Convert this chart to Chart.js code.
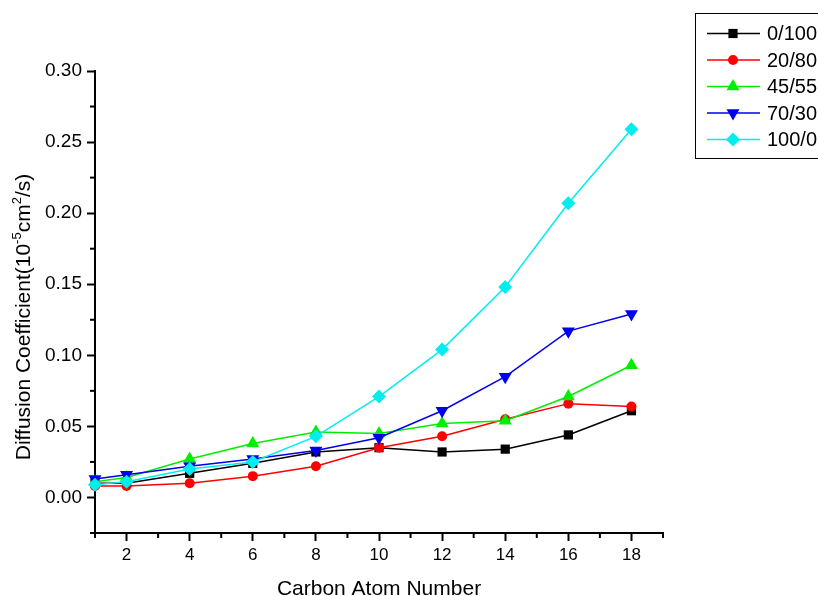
<!DOCTYPE html>
<html>
<head>
<meta charset="utf-8">
<script src="https://cdn.jsdelivr.net/npm/chart.js@4/dist/chart.umd.min.js"></script>
<style>
  html, body { margin: 0; padding: 0; background: #fff; }
  canvas { display: block; }
</style>
</head>
<body>
<canvas id="grafico" width="818" height="596"></canvas>
<script>
// carbon atom number on the x axis
const carbono = [1, 2, 4, 6, 8, 10, 12, 14, 16, 18];

// diffusion coefficient (10^-5 cm2/s), one list per ratio
const serie0_100 = [0.010, 0.010, 0.017, 0.024, 0.032, 0.035, 0.032, 0.034, 0.044, 0.061];
const serie20_80 = [0.008, 0.008, 0.010, 0.015, 0.022, 0.035, 0.043, 0.055, 0.066, 0.064];
const serie45_55 = [0.011, 0.014, 0.027, 0.038, 0.046, 0.045, 0.052, 0.054, 0.071, 0.093];
const serie70_30 = [0.013, 0.016, 0.022, 0.027, 0.033, 0.042, 0.061, 0.085, 0.117, 0.129];
const serie100_0 = [0.009, 0.011, 0.020, 0.025, 0.043, 0.071, 0.104, 0.148, 0.207, 0.259];

const rotulos = ['0/100', '20/80', '45/55', '70/30', '100/0'];
const ticksX = [2, 4, 6, 8, 10, 12, 14, 16, 18];
const ticksY = [0, 0.05, 0.10, 0.15, 0.20, 0.25, 0.30];
const menoresX = [1, 3, 5, 7, 9, 11, 13, 15, 17, 19];
const menoresY = [-0.025, 0.025, 0.075, 0.125, 0.175, 0.225, 0.275];

const estilos = [
    { cor: '#000000', ponto: 'rect', raio: 6.5, rot: 0 },
    { cor: '#ff0000', ponto: 'circle', raio: 5, rot: 0 },
    { cor: '#00ee00', ponto: 'triangle', raio: 7.5, rot: 0 },
    { cor: '#0000ee', ponto: 'triangle', raio: 7.5, rot: 180 },
    { cor: '#00eeee', ponto: 'rectRot', raio: 7, rot: 0 }
];

function montaPontos(valores) {
    return carbono.map((c, i) => ({ x: c, y: valores[i] }));
}

const series = [serie0_100, serie20_80, serie45_55, serie70_30, serie100_0];
const datasets = series.map((s, i) => ({
    label: rotulos[i],
    data: montaPontos(s),
    borderColor: estilos[i].cor,
    backgroundColor: estilos[i].cor,
    borderWidth: 1.5,
    pointStyle: estilos[i].ponto,
    pointRadius: estilos[i].raio,
    pointRotation: estilos[i].rot,
    pointBorderWidth: 0,
    tension: 0,
    clip: false,
    order: 4 - i
}));

function desenhaMarcador(ctx, estilo, x, y) {
    const r = estilo.raio;
    ctx.save();
    ctx.fillStyle = estilo.cor;
    ctx.beginPath();
    if (estilo.ponto === 'rect') {
        const s = r * Math.SQRT1_2;
        ctx.rect(x - s, y - s, 2 * s, 2 * s);
    } else if (estilo.ponto === 'circle') {
        ctx.arc(x, y, r, 0, Math.PI * 2);
    } else if (estilo.ponto === 'triangle') {
        const sinal = estilo.rot === 180 ? -1 : 1;
        ctx.moveTo(x, y - sinal * r);
        ctx.lineTo(x + r * 0.866, y + sinal * r * 0.5);
        ctx.lineTo(x - r * 0.866, y + sinal * r * 0.5);
        ctx.closePath();
    } else {
        ctx.moveTo(x, y - r);
        ctx.lineTo(x + r, y);
        ctx.lineTo(x, y + r);
        ctx.lineTo(x - r, y);
        ctx.closePath();
    }
    ctx.fill();
    ctx.restore();
}

const extras = {
    id: 'extras',
    afterDraw(chart) {
        const ctx = chart.ctx;
        const sx = chart.scales.x;
        const sy = chart.scales.y;
        const area = chart.chartArea;
        ctx.save();
        ctx.strokeStyle = '#000';
        ctx.lineWidth = 2;
        // minor ticks
        menoresX.forEach(v => {
            const px = sx.getPixelForValue(v);
            ctx.beginPath();
            ctx.moveTo(px, area.bottom);
            ctx.lineTo(px, area.bottom + 5);
            ctx.stroke();
        });
        menoresY.forEach(v => {
            const py = sy.getPixelForValue(v);
            ctx.beginPath();
            ctx.moveTo(area.left, py);
            ctx.lineTo(area.left - 5, py);
            ctx.stroke();
        });

        // x title
        ctx.fillStyle = '#000';
        ctx.font = '21px "Liberation Sans", Arial, sans-serif';
        ctx.textAlign = 'center';
        ctx.textBaseline = 'alphabetic';
        ctx.fillText('Carbon Atom Number', 379, 595);

        // y title with superscripts
        const partes = [
            ['Diffusion Coefficient(10', false],
            ['-5', true],
            ['cm', false],
            ['2', true],
            ['/s)', false]
        ];
        const fonteN = '21px "Liberation Sans", Arial, sans-serif';
        const fonteS = '13px "Liberation Sans", Arial, sans-serif';
        let total = 0;
        partes.forEach(p => {
            ctx.font = p[1] ? fonteS : fonteN;
            total += ctx.measureText(p[0]).width;
        });
        ctx.translate(30, 317);
        ctx.rotate(-Math.PI / 2);
        ctx.textAlign = 'left';
        let pos = -total / 2;
        partes.forEach(p => {
            ctx.font = p[1] ? fonteS : fonteN;
            ctx.fillText(p[0], pos, p[1] ? -9 : 0);
            pos += ctx.measureText(p[0]).width;
        });
        ctx.restore();

        // legend box
        ctx.save();
        ctx.strokeStyle = '#000';
        ctx.lineWidth = 1;
        ctx.strokeRect(695.5, 13.5, 140, 145);
        ctx.font = '20px "Liberation Sans", Arial, sans-serif';
        ctx.textAlign = 'left';
        ctx.textBaseline = 'middle';
        rotulos.forEach((r, i) => {
            const y = 33.5 + i * 26.5;
            ctx.strokeStyle = estilos[i].cor;
            ctx.lineWidth = 1.5;
            ctx.beginPath();
            ctx.moveTo(707, y);
            ctx.lineTo(760, y);
            ctx.stroke();
            desenhaMarcador(ctx, estilos[i], 733, y);
            ctx.fillStyle = '#000';
            ctx.fillText(r, 767, y + 1);
        });
        ctx.restore();
    }
};

const grafico = document.getElementById('grafico');
const graficoDifusao = new Chart(grafico, {
    type: 'line',
    data: { datasets: datasets },
    options: {
        responsive: false,
        devicePixelRatio: 1,
        animation: false,
        layout: { padding: { left: 0, right: 155, top: 71, bottom: 0 } },
        plugins: {
            legend: { display: false },
            tooltip: { enabled: false }
        },
        scales: {
            x: {
                type: 'linear',
                min: 1,
                max: 19,
                afterBuildTicks: (scale) => {
                    scale.ticks = ticksX.map(v => ({ value: v }));
                },
                afterFit: (scale) => { scale.height = 63; },
                grid: {
                    drawOnChartArea: false,
                    drawTicks: true,
                    tickLength: 8,
                    tickWidth: 2,
                    tickColor: '#000'
                },
                border: { display: true, color: '#000', width: 2 },
                ticks: {
                    color: '#000',
                    font: { family: '"Liberation Sans", Arial, sans-serif', size: 17 },
                    padding: 4,
                    maxRotation: 0,
                    callback: (v) => String(v)
                }
            },
            y: {
                min: -0.025,
                max: 0.30,
                afterBuildTicks: (scale) => {
                    scale.ticks = ticksY.map(v => ({ value: v }));
                },
                afterFit: (scale) => { scale.width = 95; },
                grid: {
                    drawOnChartArea: false,
                    drawTicks: true,
                    tickLength: 8,
                    tickWidth: 2,
                    tickColor: '#000'
                },
                border: { display: true, color: '#000', width: 2 },
                ticks: {
                    color: '#000',
                    font: { family: '"Liberation Sans", Arial, sans-serif', size: 19 },
                    padding: 5,
                    callback: (v) => Number(v).toFixed(2)
                }
            }
        }
    },
    plugins: [extras]
});
</script>
</body>
</html>
